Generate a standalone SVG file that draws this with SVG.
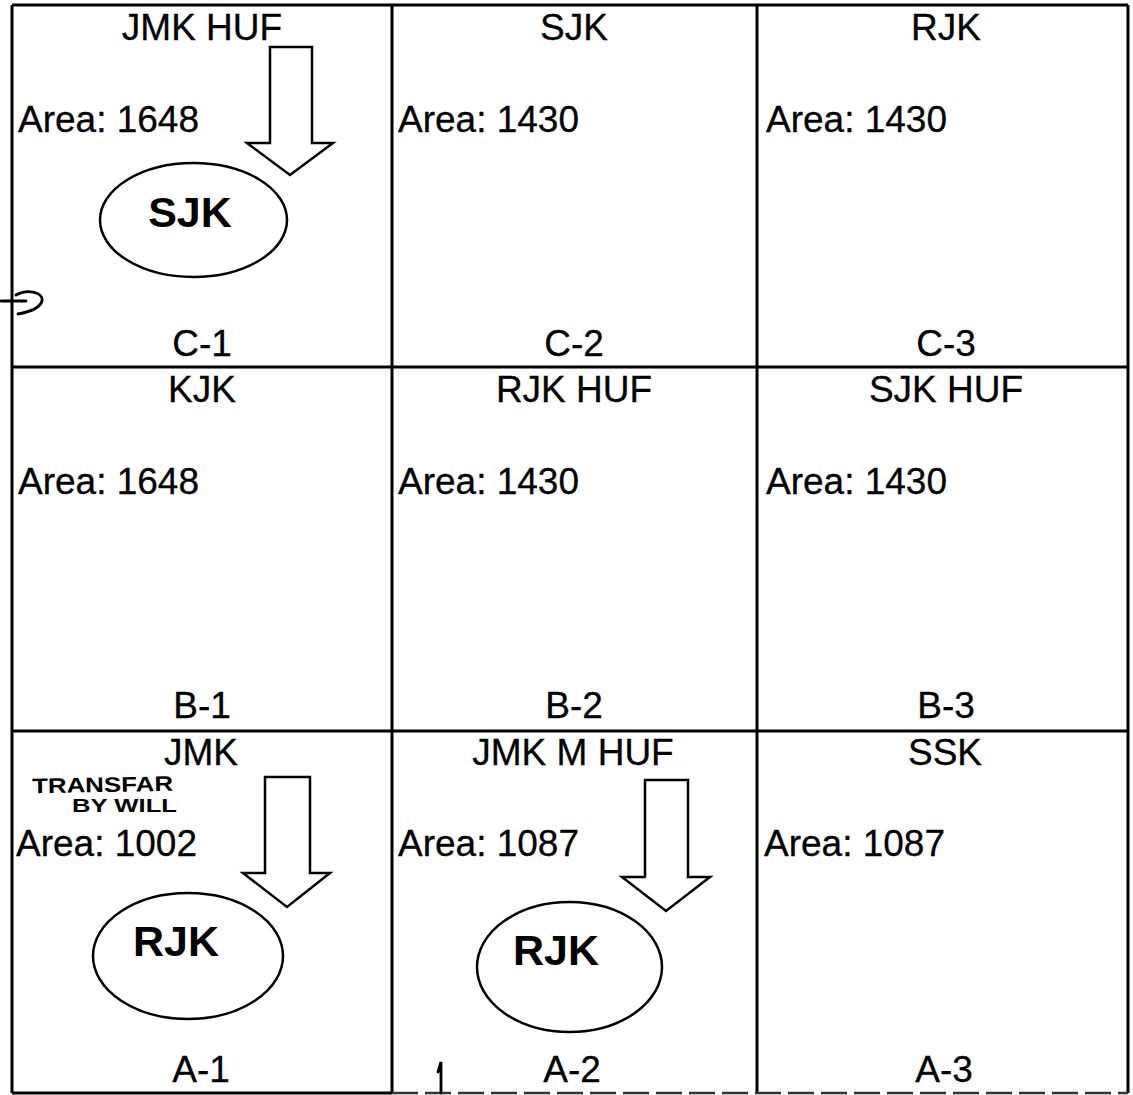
<svg xmlns="http://www.w3.org/2000/svg" width="1133" height="1095" viewBox="0 0 1133 1095">
<style>
.t{font-family:"Liberation Sans",Arial,sans-serif;font-size:37px;fill:#000;stroke:#000;stroke-width:0.3}
.c{text-anchor:middle}
.b{font-family:"Liberation Sans",Arial,sans-serif;font-size:43px;font-weight:bold;text-anchor:middle;fill:#000}
.h{font-family:"Liberation Sans",Arial,sans-serif;font-weight:bold;fill:#000}
.grid{stroke:#000;stroke-width:3;fill:none}
.ell{fill:none;stroke:#000;stroke-width:2.5}
.arr{fill:#fff;stroke:#000;stroke-width:2.5;stroke-linejoin:miter}
.ink{fill:none;stroke:#000;stroke-width:2.8;stroke-linecap:round}
</style>
<rect width="1133" height="1095" fill="#fff"/>
<g id="grid">
<path class="grid" d="M12,5 H1128 M12,367 H1128 M12,731 H1128 M12,1093 H392 M12,5 V1093 M392,5 V1093 M757,5 V1093 M1128,5 V1093"/>
<path d="M392,1093 H1128" stroke="#333" stroke-width="2.5" stroke-dasharray="26 7"/>
</g>
<g id="cell-C1">
<text class="t c" x="202" y="40">JMK HUF</text>
<text class="t" x="18" y="132">Area: 1648</text>
<text class="t c" x="202" y="356">C-1</text>
</g>
<g id="node-SJK">
<ellipse class="ell" cx="193.5" cy="220" rx="93.5" ry="57"/>
<text class="b" x="190" y="227">SJK</text>
</g>
<g id="cell-C2">
<text class="t c" x="574" y="40">SJK</text>
<text class="t" x="398" y="132">Area: 1430</text>
<text class="t c" x="574" y="356">C-2</text>
</g>
<g id="cell-C3">
<text class="t c" x="946" y="40">RJK</text>
<text class="t" x="766" y="132">Area: 1430</text>
<text class="t c" x="946" y="356">C-3</text>
</g>
<g id="cell-B1">
<text class="t c" x="202" y="402">KJK</text>
<text class="t" x="18" y="494">Area: 1648</text>
<text class="t c" x="202" y="718">B-1</text>
</g>
<g id="cell-B2">
<text class="t c" x="574" y="402">RJK HUF</text>
<text class="t" x="398" y="494">Area: 1430</text>
<text class="t c" x="574" y="718">B-2</text>
</g>
<g id="cell-B3">
<text class="t c" x="946" y="402">SJK HUF</text>
<text class="t" x="766" y="494">Area: 1430</text>
<text class="t c" x="946" y="718">B-3</text>
</g>
<g id="cell-A1">
<text class="t c" x="201" y="765">JMK</text>
<text class="h" x="32" y="792" font-size="21" textLength="141" lengthAdjust="spacingAndGlyphs" transform="rotate(-1 100 785)">TRANSFAR</text>
<text class="h" x="72" y="812" font-size="18" textLength="105" lengthAdjust="spacingAndGlyphs">BY WILL</text>
<text class="t" x="16" y="856">Area: 1002</text>
<text class="t c" x="201" y="1082">A-1</text>
</g>
<g id="node-RJK-A1">
<ellipse class="ell" cx="188" cy="956" rx="95" ry="63"/>
<text class="b" x="176" y="956">RJK</text>
</g>
<g id="cell-A2">
<text class="t c" x="573" y="765">JMK M HUF</text>
<text class="t" x="398" y="856">Area: 1087</text>
<text class="t c" x="572" y="1082">A-2</text>
</g>
<g id="node-RJK-A2">
<ellipse class="ell" cx="569.5" cy="967" rx="92.5" ry="65"/>
<text class="b" x="556" y="965">RJK</text>
</g>
<g id="cell-A3">
<text class="t c" x="945" y="765">SSK</text>
<text class="t" x="764" y="856">Area: 1087</text>
<text class="t c" x="944" y="1082">A-3</text>
</g>
<g id="connectors">
<path class="arr" d="M270,47 L312,47 L312,143 L333,143 L290,175 L247,143 L270,143 Z"/>
<path class="arr" d="M265,777 L310,777 L310,873 L330,873 L287,907 L243,873 L265,873 Z"/>
<path class="arr" d="M645,780 L688,780 L688,877 L710,877 L666,911 L622,877 L645,877 Z"/>
</g>
<g id="marks">
<path class="ink" d="M1,301 L26,301 M16,295 C28,288 44,293 42,301 C40,308 29,312 18,314"/>
<path class="ink" d="M438,1072 L441,1062 L441,1093"/>
</g>
</svg>
